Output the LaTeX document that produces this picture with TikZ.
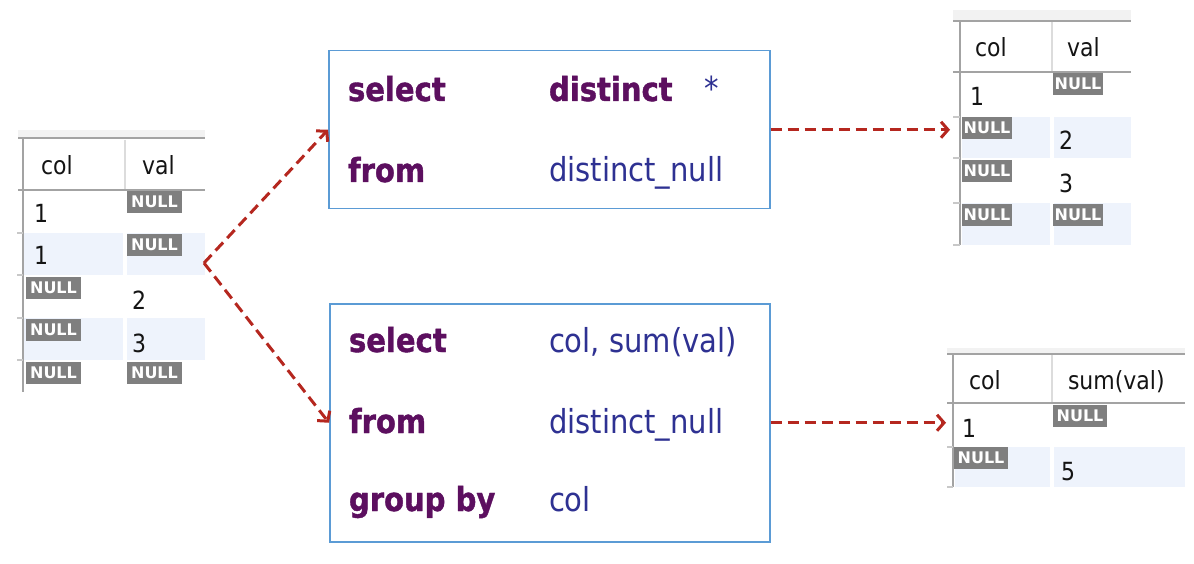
\documentclass[tikz,border=0pt]{standalone}
\usepackage{fontspec}
\setmainfont{DejaVu Sans}[FakeStretch=0.88]
\newfontfamily\kwfont{DejaVu Sans Bold}[FakeStretch=0.88,FakeBold=1.2]
\newfontfamily\badgefont{DejaVu Sans Bold}
\usetikzlibrary{arrows.meta}
\definecolor{kw}{HTML}{5C0F5F}
\definecolor{idblue}{HTML}{2E3192}
\definecolor{arrowred}{HTML}{B5271F}
\definecolor{boxblue}{HTML}{5B9BD5}
\definecolor{gridline}{HTML}{A3A3A3}
\definecolor{hdrsepc}{HTML}{DCDCDC}
\definecolor{bandc}{HTML}{F2F2F2}
\definecolor{shadec}{HTML}{EEF3FC}
\definecolor{tickc}{HTML}{C8C8C8}
\definecolor{badgec}{HTML}{7F7F7F}
\definecolor{cellc}{HTML}{141414}
\begin{document}
\begin{tikzpicture}[x=1pt,y=-1pt,
  kwtext/.style={anchor=base west,inner sep=0,outer sep=0,text=kw,font=\kwfont\fontsize{33}{40}\selectfont},
  idtext/.style={anchor=base west,inner sep=0,outer sep=0,text=idblue,font=\fontsize{33}{40}\selectfont},
  celltext/.style={anchor=base west,inner sep=0,outer sep=0,text=cellc,font=\fontsize{25}{30}\selectfont},
  nullb/.style={anchor=north west,fill=badgec,minimum width=55,minimum height=22,inner sep=0,outer sep=0,text=white,font=\badgefont\fontsize{16}{16}\selectfont},
  qbox/.style={draw=boxblue,line width=1.5,anchor=north west,inner sep=0,fill=white},
  tarea/.style={anchor=north west,inner sep=0,outer sep=0,draw=none},
  band/.style={fill=bandc,draw=none},
  gline/.style={draw=gridline,line width=1.6},
  hsep/.style={draw=hdrsepc,line width=1.5},
  shade/.style={fill=shadec,draw=none},
  tick/.style={draw=tickc,line width=1.2},
  dasharrow/.style={draw=arrowred,line width=3,dash pattern=on 11pt off 6pt,-{Straight Barb[length=7pt,width=16pt]}}
]
\useasboundingbox (0,0) rectangle (1194,564);

% ---------- left table ----------
\node[tarea,minimum width=187,minimum height=262] (t1) at (18,130) {};
\fill[band] (18,130) rectangle (205,137);
\fill[shade] (24,233) rectangle (123,275);
\fill[shade] (127,233) rectangle (205,275);
\fill[shade] (24,318) rectangle (123,360);
\fill[shade] (127,318) rectangle (205,360);
\draw[gline] (18,138) -- (205,138);
\draw[gline] (18,190) -- (205,190);
\draw[gline] (23,138) -- (23,392);
\draw[hsep] (125,140) -- (125,189);
\foreach \yy in {233,275,318,360} \draw[tick] (17,\yy) -- (23,\yy);
\node[celltext] (t1h1) at (41,175) {col};
\node[celltext] (t1h2) at (142,175) {val};
\node[celltext] (t1r1a) at (34,223) {1};
\node[nullb] (t1r1b) at (127,191) {NULL};
\node[celltext] (t1r2a) at (34,265) {1};
\node[nullb] (t1r2b) at (127,234) {NULL};
\node[nullb] (t1r3a) at (26,277) {NULL};
\node[celltext] (t1r3b) at (132,309) {2};
\node[nullb] (t1r4a) at (26,319) {NULL};
\node[celltext] (t1r4b) at (132,352) {3};
\node[nullb] (t1r5a) at (26,362) {NULL};
\node[nullb] (t1r5b) at (127,362) {NULL};

% ---------- top right table ----------
\node[tarea,minimum width=178,minimum height=235] (t2) at (953,10) {};
\fill[band] (953,10) rectangle (1131,20);
\fill[shade] (962,117) rectangle (1050,158);
\fill[shade] (1054,117) rectangle (1131,158);
\fill[shade] (962,203) rectangle (1050,245);
\fill[shade] (1054,203) rectangle (1131,245);
\draw[gline] (953,21) -- (1131,21);
\draw[gline] (953,72) -- (1131,72);
\draw[gline] (960,21) -- (960,245);
\draw[hsep] (1052,22) -- (1052,71);
\foreach \yy in {117,158,203,245} \draw[tick] (953,\yy) -- (960,\yy);
\node[celltext] (t2h1) at (975,57) {col};
\node[celltext] (t2h2) at (1067,57) {val};
\node[celltext] (t2r1a) at (970,106) {1};
\node[nullb,minimum width=50] (t2r1b) at (1053,73) {NULL};
\node[nullb,minimum width=50] (t2r2a) at (962,117) {NULL};
\node[celltext] (t2r2b) at (1059,150) {2};
\node[nullb,minimum width=50] (t2r3a) at (962,160) {NULL};
\node[celltext] (t2r3b) at (1059,193) {3};
\node[nullb,minimum width=50] (t2r4a) at (962,204) {NULL};
\node[nullb,minimum width=50] (t2r4b) at (1053,204) {NULL};

% ---------- bottom right table ----------
\node[tarea,minimum width=238,minimum height=139] (t3) at (947,348) {};
\fill[band] (947,348) rectangle (1185,353);
\fill[shade] (955,447) rectangle (1050,487);
\fill[shade] (1054,447) rectangle (1185,487);
\draw[gline] (947,354) -- (1185,354);
\draw[gline] (947,403) -- (1185,403);
\draw[gline] (953,354) -- (953,487);
\draw[hsep] (1052,355) -- (1052,402);
\foreach \yy in {447,487} \draw[tick] (947,\yy) -- (953,\yy);
\node[celltext] (t3h1) at (969,389) {col};
\node[celltext] (t3h2) at (1068,389) {sum(val)};
\node[celltext] (t3r1a) at (962,437) {1};
\node[nullb,minimum width=54] (t3r1b) at (1053,405) {NULL};
\node[nullb,minimum width=54] (t3r2a) at (954,447) {NULL};
\node[celltext] (t3r2b) at (1061,480) {5};

% ---------- query boxes ----------
\node[qbox,minimum width=441,minimum height=158] (q1) at (328,50) {};
\node[kwtext] (q1a) at (348,101) {select};
\node[kwtext] (q1b) at (549,101) {distinct};
\node[idtext] (q1c) at (704,101) {*};
\node[kwtext] (q1d) at (348,182) {from};
\node[idtext] (q1e) at (549,182) {distinct\_null};

\node[qbox,minimum width=440,minimum height=238] (q2) at (329,303) {};
\node[kwtext] (q2a) at (349,352) {select};
\node[idtext] (q2b) at (549,352) {col, sum(val)};
\node[kwtext] (q2c) at (349,433) {from};
\node[idtext] (q2d) at (549,433) {distinct\_null};
\node[kwtext] (q2e) at (349,511) {group by};
\node[idtext] (q2f) at (549,511) {col};

% ---------- connectors ----------
\coordinate (split) at (204,263);
\draw[dasharrow] (split) -- (q1.west);
\draw[dasharrow] (split) -- (q2.west);
\draw[dasharrow,shorten >=3pt] (q1.east) -- (q1.east -| t2.west);
\draw[dasharrow,shorten >=1pt] (q2.east) -- (q2.east -| t3.west);
\end{tikzpicture}
\end{document}
